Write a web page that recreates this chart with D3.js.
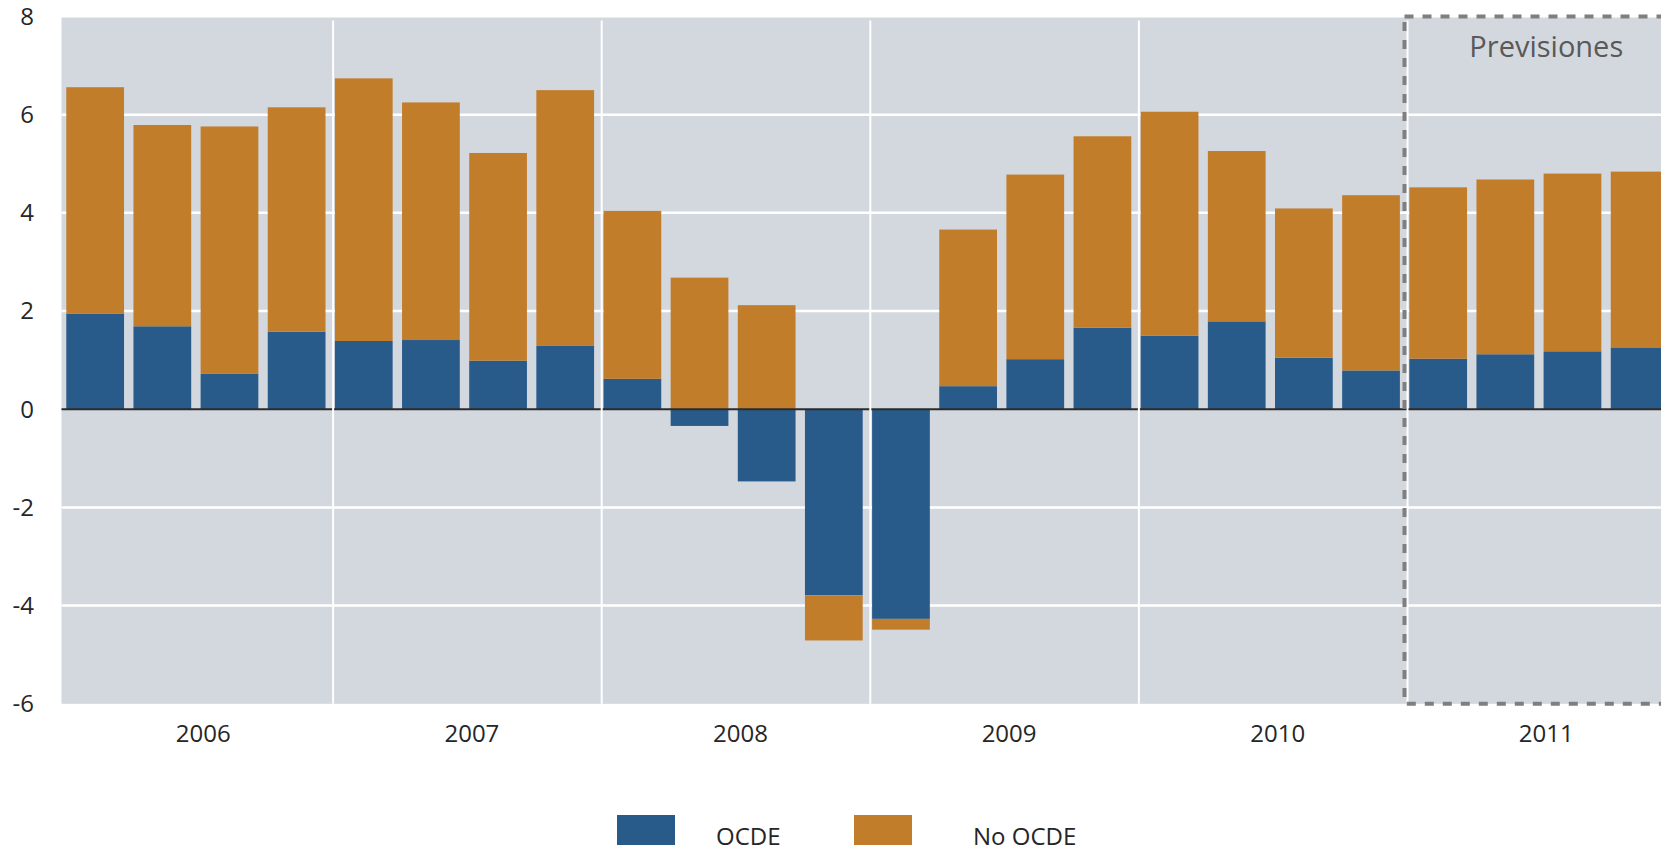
<!DOCTYPE html>
<html>
<head>
<meta charset="utf-8">
<script src="https://cdn.jsdelivr.net/npm/d3@7"></script>
<style>
	body { margin: 0; background: #fff; overflow: hidden; }
	text { font-family: "Open Sans", "Noto Sans", sans-serif; fill: #262626; }
</style>
</head>
<body>
<div id="chart"></div>
<script>
	var years = ["2006", "2007", "2008", "2009", "2010", "2011"];
	var quarters = ["2006T1", "2006T2", "2006T3", "2006T4", "2007T1", "2007T2", "2007T3", "2007T4",
		"2008T1", "2008T2", "2008T3", "2008T4", "2009T1", "2009T2", "2009T3", "2009T4",
		"2010T1", "2010T2", "2010T3", "2010T4", "2011T1", "2011T2", "2011T3", "2011T4"];
	var ocde = [1.95, 1.69, 0.72, 1.58, 1.39, 1.41, 0.99, 1.29,
		0.62, -0.34, -1.47, -3.79, -4.27, 0.47, 1.02, 1.66,
		1.50, 1.79, 1.05, 0.79, 1.03, 1.12, 1.18, 1.26];
	var noOcde = [4.61, 4.10, 5.04, 4.57, 5.35, 4.84, 4.23, 5.21,
		3.42, 2.68, 2.12, -0.92, -0.22, 3.19, 3.76, 3.90,
		4.56, 3.47, 3.04, 3.57, 3.49, 3.56, 3.62, 3.58];
	var yTicks = [8, 6, 4, 2, 0, -2, -4, -6];
	var seriesNames = ["OCDE", "No OCDE"];
	var forecastYear = "2011";

	var width = 1661, height = 852;
	var colors = { "OCDE": "#295b8a", "No OCDE": "#c27d2b" };

	// rows for d3.stack
	var rows = quarters.map(function (q, i) {
		return { q: q, year: q.slice(0, 4), "OCDE": ocde[i], "No OCDE": noOcde[i] };
	});

	var x = d3.scaleBand().domain(quarters).range([64, 64 + 24 * 67.15]).padding(0);
	var y = d3.scaleLinear().domain([-6, 8]).range([703.8, 16.5]);
	var barW = x.bandwidth() * 0.86;

	var svg = d3.select("#chart").append("svg")
		.attr("width", width)
		.attr("height", height);

	// plot background
	svg.append("rect")
		.attr("x", 61.5).attr("y", y(8) + 1)
		.attr("width", width).attr("height", y(-6) - y(8) - 1)
		.attr("fill", "#d3d8df");

	// horizontal grid
	svg.selectAll(".grid").data(yTicks.filter(function (d) { return d != 0 && d != 8 && d != -6; }))
		.enter().append("line")
		.attr("x1", 61.5).attr("x2", width)
		.attr("y1", function (d) { return y(d); }).attr("y2", function (d) { return y(d); })
		.attr("stroke", "#fff").attr("stroke-width", 2.5);

	var stack = d3.stack().keys(seriesNames).offset(d3.stackOffsetDiverging);
	var layers = stack(rows);

	svg.selectAll(".layer").data(layers)
		.enter().append("g")
		.attr("fill", function (d) { return colors[d.key]; })
		.selectAll("rect").data(function (d) { return d; })
		.enter().append("rect")
		.attr("x", function (d) { return x(d.data.q) + 2.3; })
		.attr("width", barW)
		.attr("y", function (d) { return y(Math.max(d[0], d[1])); })
		.attr("height", function (d) { return Math.abs(y(d[0]) - y(d[1])); });

	// zero line
	svg.append("line")
		.attr("x1", 61.5).attr("x2", width)
		.attr("y1", y(0)).attr("y2", y(0))
		.attr("stroke", "#2b2b2b").attr("stroke-width", 2);

	// year separators
	svg.selectAll(".sep").data(years.slice(1))
		.enter().append("line")
		.attr("x1", function (d) { return x(d + "T1") + 0.5; })
		.attr("x2", function (d) { return x(d + "T1") + 0.5; })
		.attr("y1", y(8) + 4).attr("y2", y(-6))
		.attr("stroke", "#fff").attr("stroke-width", 2);

	// forecast box
	svg.append("rect")
		.attr("x", x(forecastYear + "T1") - 2.5)
		.attr("y", y(8))
		.attr("width", 400)
		.attr("height", y(-6) - y(8))
		.attr("fill", "none")
		.attr("stroke", "#7f7f7f")
		.attr("stroke-width", 4)
		.attr("stroke-dasharray", "9,9");

	var yearCenter = function (yr) { return x(yr + "T1") + x.step() * 2 + 5; };

	svg.append("text")
		.attr("x", yearCenter(forecastYear)).attr("y", 57)
		.attr("text-anchor", "middle")
		.style("font-size", "29px")
		.style("fill", "#595959")
		.text("Previsiones");

	// y tick labels
	svg.selectAll(".ytick").data(yTicks)
		.enter().append("text")
		.attr("x", 34).attr("y", function (d) { return y(d); })
		.attr("dy", "0.35em")
		.attr("text-anchor", "end")
		.style("font-size", "24px")
		.text(function (d) { return d; });

	// year labels
	svg.selectAll(".ylab").data(years)
		.enter().append("text")
		.attr("x", function (d) { return yearCenter(d); })
		.attr("y", 742)
		.attr("text-anchor", "middle")
		.style("font-size", "24px")
		.text(function (d) { return d; });

	// legend
	var legend = svg.selectAll(".legend").data(seriesNames)
		.enter().append("g")
		.attr("transform", function (d, i) { return "translate(" + (617 + i * 237) + ",815)"; });

	legend.append("rect")
		.attr("width", 58).attr("height", 30)
		.attr("fill", function (d) { return colors[d]; });

	legend.append("text")
		.attr("x", function (d, i) { return i == 0 ? 99 : 119; })
		.attr("y", 30)
		.style("font-size", "24px")
		.text(function (d) { return d; });
</script>
</body>
</html>
